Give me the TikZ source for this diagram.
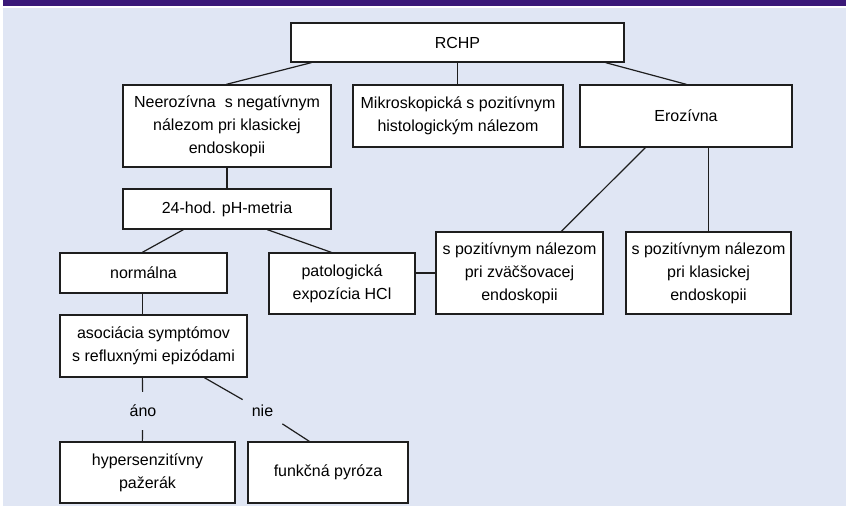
\documentclass[tikz,border=0pt]{standalone}
\usepackage{fontspec}
\setmainfont{Liberation Sans}
\usetikzlibrary{calc}
\definecolor{bgblue}{RGB}{224,230,244}
\definecolor{banner}{RGB}{58,24,120}
\definecolor{edge}{RGB}{30,30,30}
\tikzset{
  box/.style={draw=edge, line width=1.3pt, fill=white, align=center, inner sep=0pt,
    font=\fontsize{16}{23}\selectfont},
  conn/.style={draw=edge, line width=1.2pt},
  lbl/.style={font=\fontsize{16}{23}\selectfont, inner xsep=9pt, inner ysep=13pt}
}
\begin{document}
\begin{tikzpicture}[x=1pt,y=-1pt]
\useasboundingbox (0,0) rectangle (850,506);
\fill[white] (0,0) rectangle (850,506);
\fill[bgblue] (3,8) rectangle (846,506);
\fill[banner] (3,0) rectangle (846,5.5);

\node[box, minimum width=333pt, minimum height=39pt] (rchp) at (457.5,42.5) {RCHP};
\node[box, minimum width=208pt, minimum height=82pt] (neer) at (227,126) {Neerozívna\ \ s negatívnym\\nálezom pri klasickej\\endoskopii};
\node[box, minimum width=210pt, minimum height=62pt] (mikro) at (458,116) {Mikroskopická s pozitívnym\\histologickým nálezom};
\node[box, minimum width=212pt, minimum height=62pt] (eroz) at (686,116) {Erozívna};
\node[box, minimum width=208pt, minimum height=40pt] (ph) at (227,209) {24-hod. pH-metria};
\node[box, minimum width=167pt, minimum height=40pt] (norm) at (143.5,273) {normálna};
\node[box, minimum width=146pt, minimum height=61pt] (pato) at (342,283.5) {patologická\\expozícia HCl};
\node[box, minimum width=167pt, minimum height=82pt] (zvac) at (519.5,273) {s pozitívnym nálezom\\pri zväčšovacej\\endoskopii};
\node[box, minimum width=165pt, minimum height=82pt] (klas) at (708.5,273) {s pozitívnym nálezom\\pri klasickej\\endoskopii};
\node[box, minimum width=187pt, minimum height=62pt] (asoc) at (153.5,346) {asociácia symptómov\\s refluxnými epizódami};
\node[box, minimum width=175pt, minimum height=61pt] (hyper) at (147.5,472.5) {hypersenzitívny\\pažerák};
\node[box, minimum width=160pt, minimum height=61pt] (funk) at (328,472.5) {funkčná pyróza};

\node[lbl] (ano) at (143,411) {áno};
\node[lbl] (nie) at (262.5,411) {nie};

\draw[conn] ([xshift=21pt]rchp.south west) -- ([xshift=104pt]neer.north west);
\draw[conn] (rchp.south) -- (rchp.south |- mikro.north);
\draw[conn] ([xshift=-19pt]rchp.south east) -- ([xshift=107pt]eroz.north west);
\draw[conn] (neer.south) -- (ph.north);
\draw[conn] ([xshift=61pt]ph.south west) -- ([xshift=83pt]norm.north west);
\draw[conn] ([xshift=145pt]ph.south west) -- ([xshift=63pt]pato.north west);
\draw[conn] (pato.east |- zvac.west) -- (zvac.west);
\draw[conn] ([xshift=66pt]eroz.south west) -- ([xshift=126pt]zvac.north west);
\draw[conn] ([xshift=129pt]eroz.south west) -- ([xshift=83pt]klas.north west);
\draw[conn] ([xshift=83pt]norm.south west) -- ([xshift=83pt]asoc.north west);
\draw[conn] ([xshift=83pt]asoc.south west) -- (ano) -- ([xshift=83pt]hyper.north west);
\draw[conn] ([xshift=145pt]asoc.south west) -- (nie) -- ([xshift=62pt]funk.north west);
\end{tikzpicture}
\end{document}
